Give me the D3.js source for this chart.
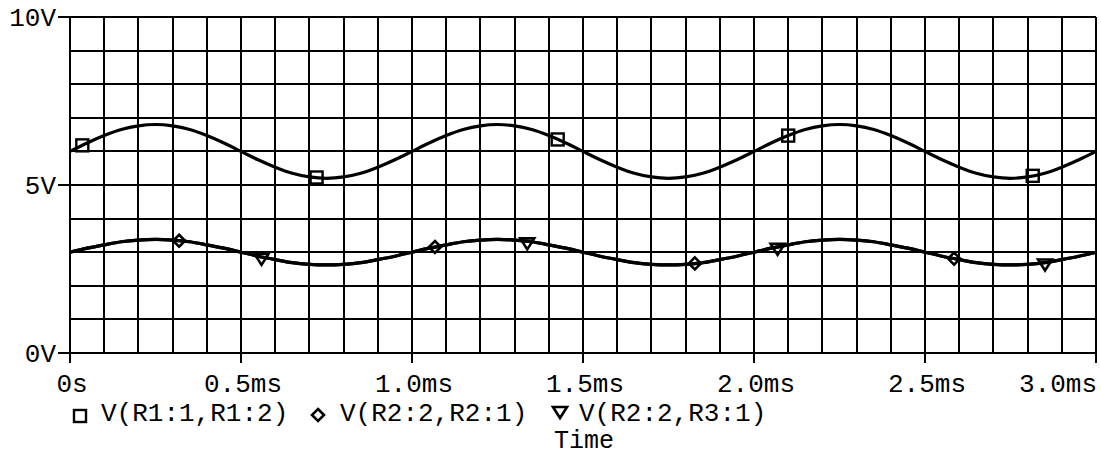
<!DOCTYPE html>
<html>
<head>
<meta charset="utf-8">
<script src="https://cdn.jsdelivr.net/npm/d3@7"></script>
<style>
  html, body { margin: 0; padding: 0; background: #fff; }
  svg { display: block; }
  text { font-family: "Liberation Mono", "Courier New", monospace; fill: #000; }
</style>
</head>
<body>
<svg id="chart" width="1101" height="456"></svg>
<script>
// ---- data ----
const timeMs = [0,0.05,0.1,0.15,0.2,0.25,0.3,0.35,0.4,0.45,0.5,0.55,0.6,0.65,0.7,0.75,0.8,0.85,0.9,0.95,
  1,1.05,1.1,1.15,1.2,1.25,1.3,1.35,1.4,1.45,1.5,1.55,1.6,1.65,1.7,1.75,1.8,1.85,1.9,1.95,
  2,2.05,2.1,2.15,2.2,2.25,2.3,2.35,2.4,2.45,2.5,2.55,2.6,2.65,2.7,2.75,2.8,2.85,2.9,2.95,3];

const vR1 = [6.00,6.25,6.47,6.65,6.76,6.80,6.76,6.65,6.47,6.25,6.00,5.75,5.53,5.35,5.24,5.20,5.24,5.35,5.53,5.75,
  6.00,6.25,6.47,6.65,6.76,6.80,6.76,6.65,6.47,6.25,6.00,5.75,5.53,5.35,5.24,5.20,5.24,5.35,5.53,5.75,
  6.00,6.25,6.47,6.65,6.76,6.80,6.76,6.65,6.47,6.25,6.00,5.75,5.53,5.35,5.24,5.20,5.24,5.35,5.53,5.75,6.00];

const vR2 = [3.00,3.12,3.22,3.31,3.36,3.38,3.36,3.31,3.22,3.12,3.00,2.88,2.78,2.69,2.64,2.62,2.64,2.69,2.78,2.88,
  3.00,3.12,3.22,3.31,3.36,3.38,3.36,3.31,3.22,3.12,3.00,2.88,2.78,2.69,2.64,2.62,2.64,2.69,2.78,2.88,
  3.00,3.12,3.22,3.31,3.36,3.38,3.36,3.31,3.22,3.12,3.00,2.88,2.78,2.69,2.64,2.62,2.64,2.69,2.78,2.88,3.00];

const vR3 = [3.00,3.12,3.22,3.31,3.36,3.38,3.36,3.31,3.22,3.12,3.00,2.88,2.78,2.69,2.64,2.62,2.64,2.69,2.78,2.88,
  3.00,3.12,3.22,3.31,3.36,3.38,3.36,3.31,3.22,3.12,3.00,2.88,2.78,2.69,2.64,2.62,2.64,2.69,2.78,2.88,
  3.00,3.12,3.22,3.31,3.36,3.38,3.36,3.31,3.22,3.12,3.00,2.88,2.78,2.69,2.64,2.62,2.64,2.69,2.78,2.88,3.00];

// marker positions along each trace (time, ms)
const markR1 = [0.036, 0.721, 1.426, 2.100, 2.815];
const markR2 = [0.319, 1.067, 1.827, 2.585];
const markR3 = [0.560, 1.337, 2.069, 2.851];

const xTicks = [0, 0.5, 1.0, 1.5, 2.0, 2.5, 3.0];
const xTickLabels = ["0s", "0.5ms", "1.0ms", "1.5ms", "2.0ms", "2.5ms", "3.0ms"];
const yTicks = [0, 5, 10];
const yTickLabels = ["0V", "5V", "10V"];
const seriesNames = ["V(R1:1,R1:2)", "V(R2:2,R2:1)", "V(R2:2,R3:1)"];
const xTitle = "Time";

// ---- layout ----
const L = 70, R = 1096, T = 17, B = 353;
const FS = 26;
const svg = d3.select("#chart");
const x = d3.scaleLinear().domain([0, 3]).range([L, R]);
const y = d3.scaleLinear().domain([0, 10]).range([B, T]);

// grid
const gGrid = svg.append("g").attr("stroke", "#000").attr("stroke-width", 1.6).attr("shape-rendering", "crispEdges");
gGrid.selectAll("line.v").data(d3.range(0, 31).map(i => i / 10)).join("line")
  .attr("x1", d => Math.round(x(d))).attr("x2", d => Math.round(x(d)))
  .attr("y1", T).attr("y2", B);
gGrid.selectAll("line.h").data(d3.range(0, 11)).join("line")
  .attr("x1", L).attr("x2", R)
  .attr("y1", d => Math.round(y(d))).attr("y2", d => Math.round(y(d)));

// axes ticks
const gAx = svg.append("g").attr("stroke", "#000").attr("stroke-width", 1.6).attr("shape-rendering", "crispEdges");
gAx.selectAll("line.xt").data(xTicks).join("line")
  .attr("x1", d => Math.round(x(d))).attr("x2", d => Math.round(x(d)))
  .attr("y1", B).attr("y2", B + 10);
gAx.selectAll("line.yt").data(yTicks).join("line")
  .attr("x1", L - 12).attr("x2", L)
  .attr("y1", d => Math.round(y(d))).attr("y2", d => Math.round(y(d)));

// tick labels
svg.append("g").selectAll("text").data(xTicks).join("text")
  .attr("x", (d, i) => i === xTicks.length - 1 ? R + 1 : x(d) + 2)
  .attr("y", 392)
  .attr("text-anchor", (d, i) => i === xTicks.length - 1 ? "end" : "middle")
  .attr("font-size", FS)
  .text((d, i) => xTickLabels[i]);
svg.append("g").selectAll("text").data(yTicks).join("text")
  .attr("x", 56)
  .attr("y", d => y(d) + 9)
  .attr("text-anchor", "end")
  .attr("font-size", FS)
  .text((d, i) => yTickLabels[i]);

// traces
const line = d3.line().x(d => x(d[0])).y(d => y(d[1])).curve(d3.curveMonotoneX);
const series = [vR1, vR2, vR3];
svg.append("g").selectAll("path").data(series).join("path")
  .attr("d", s => line(timeMs.map((t, i) => [t, s[i]])))
  .attr("fill", "none").attr("stroke", "#000").attr("stroke-width", 3.2)
  .attr("stroke-linejoin", "round");

// markers
function valueAt(s, t) {
  const i = Math.min(d3.bisectRight(timeMs, t) - 1, timeMs.length - 2);
  const f = (t - timeMs[i]) / (timeMs[i + 1] - timeMs[i]);
  return s[i] + f * (s[i + 1] - s[i]);
}
function symSquare(g, cx, cy) {
  g.append("rect").attr("x", cx - 6).attr("y", cy - 6).attr("width", 12).attr("height", 12)
    .attr("fill", "none").attr("stroke", "#000").attr("stroke-width", 2.4);
}
function symDiamond(g, cx, cy) {
  g.append("path").attr("d", `M${cx},${cy - 6}L${cx + 6},${cy}L${cx},${cy + 6}L${cx - 6},${cy}Z`)
    .attr("fill", "none").attr("stroke", "#000").attr("stroke-width", 2.6);
}
function symTriangle(g, cx, cy) {
  g.append("path").attr("d", `M${cx - 7},${cy - 5}L${cx + 7},${cy - 5}L${cx},${cy + 6}Z`)
    .attr("fill", "none").attr("stroke", "#000").attr("stroke-width", 2.6).attr("stroke-linejoin", "miter");
}
const gM = svg.append("g");
markR1.forEach(t => symSquare(gM, x(t), y(valueAt(vR1, t))));
markR2.forEach(t => symDiamond(gM, x(t), y(valueAt(vR2, t))));
markR3.forEach(t => symTriangle(gM, x(t), y(valueAt(vR3, t)) + 2));

// legend
const gL = svg.append("g");
symSquare(gL, 80, 416);
symDiamond(gL, 318, 415);
symTriangle(gL, 560, 412);
const legX = [101, 340, 579];
gL.selectAll("text").data(seriesNames).join("text")
  .attr("x", (d, i) => legX[i]).attr("y", 421)
  .attr("font-size", FS)
  .text(d => d);

// x title
svg.append("text").attr("x", 584).attr("y", 448).attr("text-anchor", "middle")
  .attr("font-size", 25).text(xTitle);
</script>
</body>
</html>
